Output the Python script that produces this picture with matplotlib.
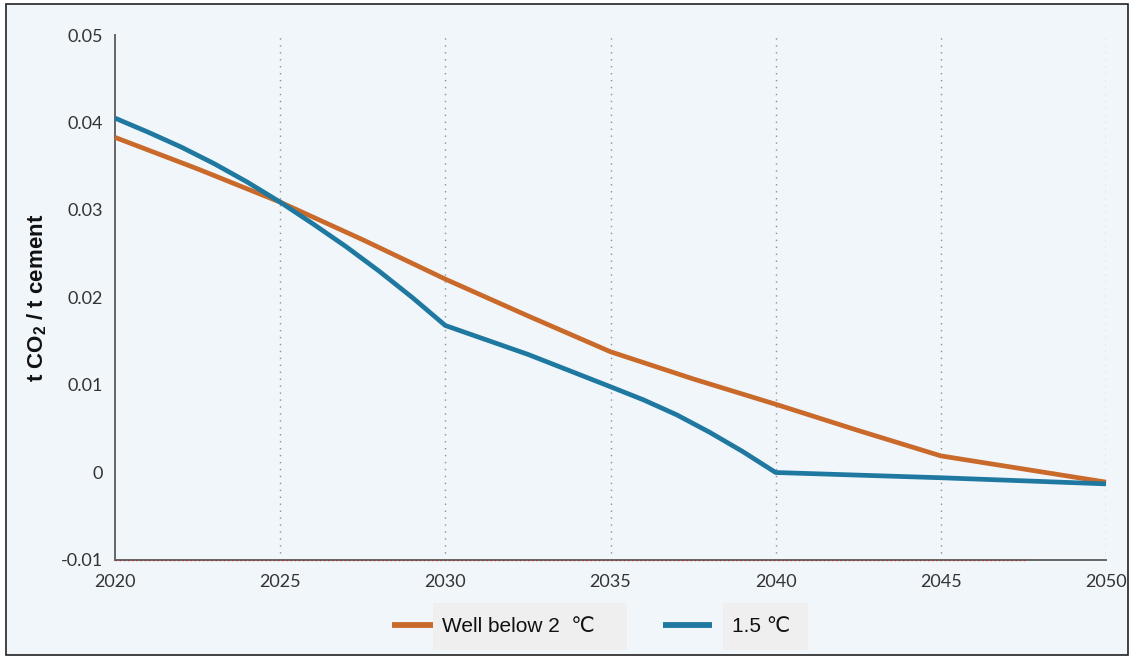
import matplotlib
matplotlib.use("Agg")
import matplotlib.pyplot as plt
from matplotlib.patches import Rectangle
from matplotlib.lines import Line2D

plt.rcParams["mathtext.fontset"] = "custom"
plt.rcParams["mathtext.rm"] = "Liberation Sans"
plt.rcParams["mathtext.bf"] = "Liberation Sans:bold"

years_wb2 = [2020, 2022.5, 2025, 2027.5, 2030, 2032.5, 2035, 2037.5, 2040, 2042.5, 2045, 2047.5, 2050]
well_below_2 = [0.0383, 0.0347, 0.0309, 0.0266, 0.0221, 0.0179, 0.0138, 0.0107, 0.0078, 0.0048, 0.0019, 0.0004, -0.0011]
years_15 = [2020, 2021, 2022, 2023, 2024, 2025, 2026, 2027, 2028, 2029, 2030, 2032.5, 2035,
            2036, 2037, 2038, 2039, 2040, 2045, 2050]
one_point_five = [0.0405, 0.0389, 0.0372, 0.0353, 0.0332, 0.0309, 0.0284, 0.0258, 0.0230, 0.0200, 0.0168,
                  0.0135, 0.0098, 0.0083, 0.0066, 0.0046, 0.0024, 0.0000, -0.0006, -0.0013]
series_labels = ["Well below 2  \u2103", "1.5 \u2103"]
xticks = [2020, 2025, 2030, 2035, 2040, 2045, 2050]
yticks = [-0.01, 0, 0.01, 0.02, 0.03, 0.04, 0.05]
ytick_labels = ["-0.01", "0", "0.01", "0.02", "0.03", "0.04", "0.05"]

W, H = 1131, 659
fig = plt.figure(figsize=(W / 100, H / 100), dpi=100)
fig.patch.set_facecolor("white")
bg = "#F1F6FB"
fig.add_artist(Rectangle((6 / W, 4 / H), 1122 / W, 651 / H, transform=fig.transFigure,
                         facecolor=bg, edgecolor="#222222", linewidth=1.2, zorder=0))

ax = fig.add_axes([115 / W, 1 - 560 / H, (1106 - 115) / W, (560 - 35) / H])
ax.set_facecolor("none")
ax.set_xlim(2020, 2050)
ax.set_ylim(-0.01, 0.05)

c_orange = "#C96A2B"
c_blue = "#1F78A0"
lw = 3.4
ax.plot(years_wb2, well_below_2, color=c_orange, lw=lw, solid_capstyle="butt",
        solid_joinstyle="round", clip_on=False, zorder=3)
ax.plot(years_15, one_point_five, color=c_blue, lw=lw, solid_capstyle="butt",
        solid_joinstyle="round", clip_on=False, zorder=4)

for x in xticks[1:]:
    ax.axvline(x, color="#8F8F8F", lw=1.0, ls=(0, (1, 4)), zorder=1)

# faint red dotted artefact along bottom axis
ax.plot([2020, 2047.6], [-0.01, -0.01], color="#B03030", lw=1.0, ls=(0, (1, 2)), zorder=5, clip_on=False)

for s in ["top", "right"]:
    ax.spines[s].set_visible(False)
for s in ["left", "bottom"]:
    ax.spines[s].set_color("#666666")
    ax.spines[s].set_linewidth(1.4)

tick_font = ["Lato", "DejaVu Sans"]
ax.set_xticks(xticks)
ax.set_xticklabels([str(x) for x in xticks], fontsize=13, color="#333333", family=tick_font)
ax.set_yticks(yticks)
ax.set_yticklabels(ytick_labels, fontsize=13, color="#333333", family=tick_font)
ax.tick_params(axis="both", length=0)
ax.tick_params(axis="x", pad=10)
ax.tick_params(axis="y", pad=9)

fig.text(37 / W, 1 - 298 / H, r"t CO$_\mathbf{2}$ / t cement", fontsize=16, fontweight="bold",
         color="#111111", family=["Liberation Sans", "DejaVu Sans"], rotation=90,
         ha="center", va="center")

# legend (drawn manually to reproduce the grey label boxes)
leg_font = ["Liberation Sans", "DejaVu Sans"]
legend_items = [
    (c_orange, series_labels[0], 392, 433, 433, 627, 442),
    (c_blue, series_labels[1], 663, 712, 723, 808, 732),
]
for color, label, hx0, hx1, bx0, bx1, tx in legend_items:
    fig.add_artist(Rectangle((bx0 / W, 1 - 650 / H), (bx1 - bx0) / W, 47 / H,
                             transform=fig.transFigure, facecolor="#EFEFEF",
                             edgecolor="none", zorder=1))
    fig.add_artist(Line2D([hx0 / W, hx1 / W], [1 - 625 / H, 1 - 625 / H],
                          transform=fig.transFigure, color=color, lw=4.2,
                          solid_capstyle="butt", zorder=2))
    fig.text(tx / W, 1 - 626 / H, label, fontsize=15, color="#111111", family=leg_font,
             ha="left", va="center", zorder=3)

fig.savefig("out.png", dpi=100, facecolor=fig.get_facecolor())
